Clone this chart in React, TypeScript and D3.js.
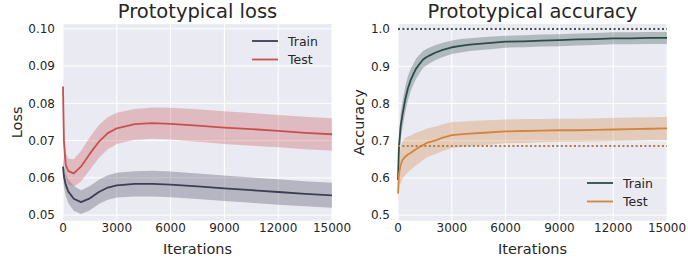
import * as d3 from "d3";

const W = 688;
const H = 258;

// shared x ticks
const X_TICKS = [0, 3000, 6000, 9000, 12000, 15000];

// loss panel
const LOSS_ITERS = [0, 50, 150, 300, 600, 1000, 1500, 2000, 2500, 3000, 4000, 5000, 6000, 7500, 9000, 10500, 12000, 13500, 15000];
const TRAIN_LOSS = [0.063, 0.0605, 0.0582, 0.0563, 0.0544, 0.0535, 0.0545, 0.0562, 0.0574, 0.058, 0.0584, 0.0584, 0.0582, 0.0577, 0.0572, 0.0567, 0.0562, 0.0557, 0.0553];
const TRAIN_LOSS_UP = [0.0655, 0.0635, 0.0612, 0.0595, 0.0578, 0.0567, 0.0578, 0.0595, 0.0607, 0.0614, 0.0618, 0.0619, 0.0617, 0.0612, 0.0606, 0.0601, 0.0596, 0.0591, 0.0587];
const TRAIN_LOSS_LO = [0.0605, 0.0575, 0.0552, 0.0532, 0.0512, 0.0503, 0.0513, 0.053, 0.0541, 0.0547, 0.055, 0.055, 0.0548, 0.0543, 0.0538, 0.0533, 0.0528, 0.0524, 0.052];
const TEST_LOSS = [0.0845, 0.07, 0.0635, 0.0618, 0.0612, 0.063, 0.0665, 0.0697, 0.072, 0.0733, 0.0744, 0.0747, 0.0745, 0.074, 0.0735, 0.0731, 0.0726, 0.0721, 0.0717];
const TEST_LOSS_UP = [0.0876, 0.074, 0.0668, 0.0652, 0.065, 0.0672, 0.071, 0.0742, 0.0763, 0.0775, 0.0785, 0.0789, 0.0788, 0.0784, 0.0779, 0.0774, 0.0769, 0.0764, 0.076];
const TEST_LOSS_LO = [0.0815, 0.066, 0.0602, 0.0583, 0.0576, 0.059, 0.0622, 0.0653, 0.0677, 0.0691, 0.0702, 0.0705, 0.0703, 0.0697, 0.0691, 0.0686, 0.0682, 0.0677, 0.0673];
const LOSS_TICKS = [0.05, 0.06, 0.07, 0.08, 0.09, 0.1];

// accuracy panel
const ACC_ITERS = [0, 50, 150, 250, 400, 550, 700, 850, 1000, 1200, 1400, 1600, 1800, 2100, 2500, 3000, 3500, 4000, 5000, 6000, 7000, 8000, 9000, 10000, 11000, 12000, 13000, 14000, 15000];
const TRAIN_ACC = [0.594, 0.68, 0.74, 0.77, 0.81, 0.84, 0.862, 0.878, 0.893, 0.906, 0.918, 0.925, 0.93, 0.937, 0.944, 0.951, 0.955, 0.958, 0.962, 0.966, 0.967, 0.969, 0.97, 0.972, 0.973, 0.975, 0.975, 0.976, 0.976];
const TRAIN_ACC_SPREAD = [0.02, 0.03, 0.035, 0.035, 0.035, 0.033, 0.03, 0.028, 0.027, 0.025, 0.023, 0.022, 0.021, 0.02, 0.019, 0.018, 0.018, 0.017, 0.017, 0.016, 0.016, 0.016, 0.016, 0.016, 0.016, 0.016, 0.016, 0.016, 0.016];
const TEST_ACC = [0.558, 0.61, 0.635, 0.648, 0.657, 0.663, 0.667, 0.672, 0.677, 0.683, 0.688, 0.694, 0.697, 0.701, 0.708, 0.715, 0.717, 0.719, 0.722, 0.725, 0.726, 0.727, 0.728, 0.728, 0.729, 0.73, 0.731, 0.732, 0.733];
const TEST_ACC_SPREAD = [0.025, 0.04, 0.05, 0.05, 0.05, 0.048, 0.046, 0.045, 0.044, 0.042, 0.04, 0.039, 0.038, 0.037, 0.036, 0.035, 0.034, 0.034, 0.033, 0.032, 0.032, 0.031, 0.031, 0.031, 0.031, 0.031, 0.031, 0.031, 0.031];
const ACC_TICKS = [0.5, 0.6, 0.7, 0.8, 0.9, 1.0];
const ACC_REFS = [1.0, 0.686];

const FONT = "DejaVu Sans, sans-serif";
const BG = "#eaeaf2";
const TXT = "#262626";

type Series = { name: string; color: string; mean: number[]; lo: number[]; hi: number[] };

function Panel(props: {
  left: number;
  right: number;
  title: string;
  ylabel: string;
  ylabelX: number;
  yDomain: [number, number];
  yTicks: number[];
  yFmt: (v: number) => string;
  iters: number[];
  series: Series[];
  refs?: { value: number; color: string }[];
  legendX: number;
  legendY: number;
}) {
  const top = 24;
  const bottom = 220.7;
  const x = d3.scaleLinear().domain([0, 15000]).range([props.left, props.right]);
  const y = d3.scaleLinear().domain(props.yDomain).range([bottom, top]);
  const it = props.iters;
  const line = d3.line<number>().x((_, i) => x(it[i])).y((d) => y(d));
  const area = (s: Series) =>
    d3.area<number>()
      .x((_, i) => x(it[i]))
      .y0((_, i) => y(s.lo[i]))
      .y1((_, i) => y(s.hi[i]))(s.mean) || "";
  const cx = (props.left + props.right) / 2;

  return (
    <g>
      <rect x={props.left} y={top} width={props.right - props.left} height={bottom - top} fill={BG} />
      {X_TICKS.map((t) => (
        <line key={"gx" + t} x1={x(t)} x2={x(t)} y1={top} y2={bottom} stroke="#fff" strokeWidth={1} />
      ))}
      {props.yTicks.map((t) => (
        <line key={"gy" + t} x1={props.left} x2={props.right} y1={y(t)} y2={y(t)} stroke="#fff" strokeWidth={1} />
      ))}
      {props.series.map((s) => (
        <path key={"a" + s.name} d={area(s)} fill={s.color} fillOpacity={0.3} stroke="none" />
      ))}
      {props.series.map((s) => (
        <path key={"l" + s.name} d={line(s.mean) || ""} fill="none" stroke={s.color} strokeWidth={1.8} strokeLinejoin="round" />
      ))}
      {(props.refs || []).map((r) => (
        <line key={"r" + r.value} x1={props.left} x2={props.right} y1={y(r.value)} y2={y(r.value)}
          stroke={r.color} strokeWidth={2} strokeDasharray="2,2.4" />
      ))}
      {X_TICKS.map((t) => (
        <text key={"tx" + t} x={x(t)} y={232} textAnchor="middle" fontSize={12} fill={TXT}>{t}</text>
      ))}
      {props.yTicks.map((t) => (
        <text key={"ty" + t} x={props.left - 8} y={y(t) + 4.3} textAnchor="end" fontSize={12} fill={TXT}>{props.yFmt(t)}</text>
      ))}
      <text x={cx} y={254} textAnchor="middle" fontSize={14.5} fill={TXT}>Iterations</text>
      <text transform={`translate(${props.ylabelX},${(top + bottom) / 2}) rotate(-90)`} textAnchor="middle" fontSize={14.5} fill={TXT}>
        {props.ylabel}
      </text>
      <text x={cx} y={18} textAnchor="middle" fontSize={19.5} fill={TXT}>{props.title}</text>
      {props.series.map((s, i) => (
        <g key={"lg" + s.name} transform={`translate(${props.legendX},${props.legendY + i * 18.5})`}>
          <line x1={0} x2={26} y1={0} y2={0} stroke={s.color} strokeWidth={1.8} />
          <text x={36} y={4.5} fontSize={12.5} fill={TXT}>{s.name}</text>
        </g>
      ))}
    </g>
  );
}

export default function App() {
  const lossSeries: Series[] = [
    { name: "Train", color: "#3c3f53", mean: TRAIN_LOSS, lo: TRAIN_LOSS_LO, hi: TRAIN_LOSS_UP },
    { name: "Test", color: "#c8504f", mean: TEST_LOSS, lo: TEST_LOSS_LO, hi: TEST_LOSS_UP },
  ];
  const accSeries: Series[] = [
    {
      name: "Train", color: "#2c4c46", mean: TRAIN_ACC,
      lo: TRAIN_ACC.map((v, i) => v - TRAIN_ACC_SPREAD[i]),
      hi: TRAIN_ACC.map((v, i) => v + TRAIN_ACC_SPREAD[i]),
    },
    {
      name: "Test", color: "#d4843c", mean: TEST_ACC,
      lo: TEST_ACC.map((v, i) => v - TEST_ACC_SPREAD[i]),
      hi: TEST_ACC.map((v, i) => v + TEST_ACC_SPREAD[i]),
    },
  ];

  return (
    <svg width={W} height={H} style={{ position: "absolute", left: 0, top: 0, fontFamily: FONT }}>
      <rect width={W} height={H} fill="#fff" />
      <Panel
        left={63} right={332} title="Prototypical loss" ylabel="Loss" ylabelX={21.5}
        yDomain={[0.0485, 0.1013]} yTicks={LOSS_TICKS} yFmt={(v) => v.toFixed(2)}
        iters={LOSS_ITERS} series={lossSeries} legendX={252} legendY={41}
      />
      <Panel
        left={398} right={667} title="Prototypical accuracy" ylabel="Accuracy" ylabelX={364}
        yDomain={[0.485, 1.0135]} yTicks={ACC_TICKS} yFmt={(v) => v.toFixed(1)}
        iters={ACC_ITERS} series={accSeries}
        refs={[{ value: ACC_REFS[0], color: "#44504f" }, { value: ACC_REFS[1], color: "#b77a45" }]}
        legendX={587} legendY={183}
      />
    </svg>
  );
}
